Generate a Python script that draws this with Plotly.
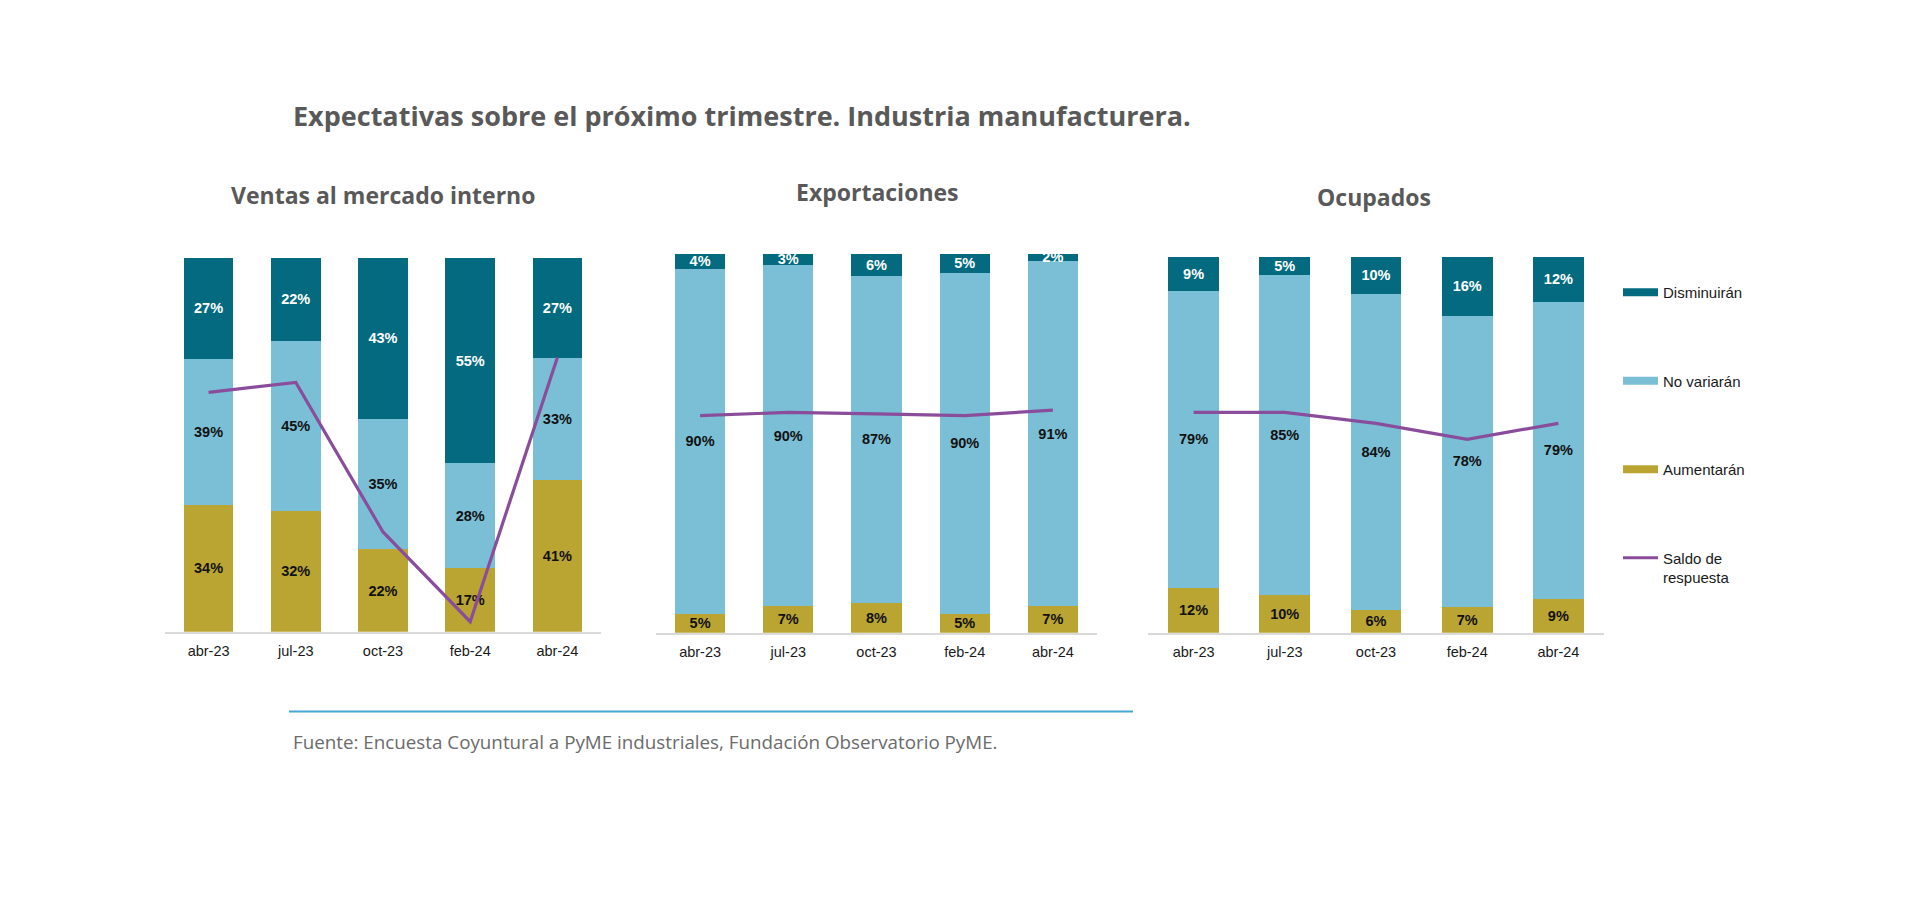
import plotly.graph_objects as go

# ---------------- data ----------------
categorias = ["abr-23", "jul-23", "oct-23", "feb-24", "abr-24"]

ventas_aumentaran = [34, 32, 22, 17, 41]
ventas_no_variaran = [39, 45, 35, 28, 33]
ventas_disminuiran = [27, 22, 43, 55, 27]
ventas_saldo = [8, 10, -20, -38, 15]

export_aumentaran = [5, 7, 8, 5, 7]
export_no_variaran = [90, 90, 87, 90, 91]
export_disminuiran = [4, 3, 6, 5, 2]
export_saldo = [0.5, 3.5, 2, 0.5, 5.5]

ocup_aumentaran = [12, 10, 6, 7, 9]
ocup_no_variaran = [79, 85, 84, 78, 79]
ocup_disminuiran = [9, 5, 10, 16, 12]
ocup_saldo = [4.3, 4.3, -1.4, -9.7, -1.4]

panel_titles = ["Ventas al mercado interno", "Exportaciones", "Ocupados"]
serie_aum = "Aumentarán"
serie_nov = "No variarán"
serie_dis = "Disminuirán"
serie_saldo = "Saldo de<br>respuesta"

main_title = "Expectativas sobre el próximo trimestre. Industria manufacturera."
fuente = "Fuente: Encuesta Coyuntural a PyME industriales, Fundación Observatorio PyME."

# ---------------- style ----------------
OFF = 8                      # default page body margin
W, H = 1920 - 2 * OFF, 911 - 2 * OFF
C_DIS = "#036A80"
C_NOV = "#7ABFD6"
C_AUM = "#BAA533"
C_SAL = "#8A4D9C"
LABEL_FONT = "Liberation Sans, Arial, sans-serif"
TITLE_FONT = "Open Sans, Lato, sans-serif"


def px(x):
    return (x - OFF) / W


def py(y):
    return 1 - (y - OFF) / H


panels = [
    dict(aum=ventas_aumentaran, nov=ventas_no_variaran, dis=ventas_disminuiran,
         saldo=ventas_saldo, x=(165, 601), y=(257.7, 631.7), y2range=[-40, 35],
         title_xy=(383, 195), width=0.57),
    dict(aum=export_aumentaran, nov=export_no_variaran, dis=export_disminuiran,
         saldo=export_saldo, x=(656, 1097), y=(253.7, 632.7), y2range=[-200, 150],
         title_xy=(877, 192), width=0.57),
    dict(aum=ocup_aumentaran, nov=ocup_no_variaran, dis=ocup_disminuiran,
         saldo=ocup_saldo, x=(1148, 1604), y=(256.7, 632.7), y2range=[-110, 85],
         title_xy=(1374, 197), width=0.555),
]


def pct(vals):
    return [f"{v}%" for v in vals]


fig = go.Figure()
layout_axes = {}
annotations = []

for i, p in enumerate(panels):
    xa = "x" if i == 0 else f"x{i + 1}"
    yb = "y" if i == 0 else f"y{2 * i + 1}"
    yl = f"y{2 * i + 2}"
    show = i == 0
    for vals, name, col, tcol in [
        (p["aum"], serie_aum, C_AUM, "#111111"),
        (p["nov"], serie_nov, C_NOV, "#111111"),
        (p["dis"], serie_dis, C_DIS, "#FFFFFF"),
    ]:
        fig.add_trace(go.Bar(
            x=categorias, y=vals, name=name, marker=dict(color=col, line=dict(width=0)),
            text=pct(vals), textposition="inside", insidetextanchor="middle",
            textangle=0, textfont=dict(family=LABEL_FONT, size=14.5, color=tcol, weight="bold"),
            width=p["width"], xaxis=xa, yaxis=yb, showlegend=False,
            legendgroup=name,
        ))
    fig.add_trace(go.Scatter(
        x=categorias, y=p["saldo"], name=serie_saldo, mode="lines",
        line=dict(color=C_SAL, width=3.2), xaxis=xa, yaxis=yl, showlegend=show,
        legendgroup="saldo", legendrank=4,
    ))

    xkey = "xaxis" if i == 0 else f"xaxis{i + 1}"
    ybkey = "yaxis" if i == 0 else f"yaxis{2 * i + 1}"
    ylkey = f"yaxis{2 * i + 2}"
    dom_x = [px(p["x"][0]), px(p["x"][1])]
    dom_y = [py(p["y"][1]), py(p["y"][0])]
    layout_axes[xkey] = dict(
        domain=dom_x, anchor=yb, type="category",
        range=[-0.5, 4.5], showline=True, linecolor="#D9D9D9", linewidth=2,
        showgrid=False, zeroline=False, ticks="", ticklabelstandoff=5,
        tickfont=dict(family=LABEL_FONT, size=14.5, color="#1A1A1A"), fixedrange=True,
    )
    layout_axes[ybkey] = dict(domain=dom_y, anchor=xa, range=[0, 100], visible=False,
                              showgrid=False, zeroline=False, fixedrange=True)
    layout_axes[ylkey] = dict(domain=dom_y, anchor=xa, overlaying=yb, side="right",
                              range=p["y2range"], visible=False, showgrid=False,
                              zeroline=False, fixedrange=True)
    annotations.append(dict(
        text=panel_titles[i], x=px(p["title_xy"][0]), y=py(p["title_xy"][1]),
        xref="paper", yref="paper", xanchor="center", yanchor="middle", showarrow=False,
        font=dict(family=TITLE_FONT, size=23, color="#595959", weight=700),
    ))

# legend swatches (wide flat rectangles, as in the original legend)
for name, col, rank in [(serie_dis, C_DIS, 1), (serie_nov, C_NOV, 2), (serie_aum, C_AUM, 3)]:
    fig.add_trace(go.Scatter(
        x=[None], y=[None], name=name, mode="lines",
        line=dict(color=col, width=8), legendgroup=name, legendrank=rank,
        showlegend=True, hoverinfo="skip",
    ))

annotations.append(dict(
    text=main_title, x=px(291), y=py(116), xref="paper", yref="paper",
    xanchor="left", yanchor="middle", showarrow=False,
    font=dict(family=TITLE_FONT, size=27, color="#595959", weight=700),
))
annotations.append(dict(
    text=fuente, x=px(291), y=py(742), xref="paper", yref="paper",
    xanchor="left", yanchor="middle", showarrow=False,
    font=dict(family=TITLE_FONT, size=18.8, color="#6B6B6B"),
))

fig.update_layout(
    width=W, height=H, autosize=False,
    margin=dict(l=0, r=0, t=0, b=0, pad=0),
    paper_bgcolor="white", plot_bgcolor="white",
    barmode="stack", barnorm="percent",
    uniformtext=dict(minsize=14.5, mode="show"),
    showlegend=True,
    legend=dict(
        x=px(1618), y=py(276), xanchor="left", yanchor="top",
        traceorder="grouped", tracegroupgap=66, itemwidth=35, valign="top",
        font=dict(family=LABEL_FONT, size=15, color="#1A1A1A"),
        bgcolor="rgba(0,0,0,0)",
    ),
    annotations=annotations,
    shapes=[dict(type="line", xref="paper", yref="paper", x0=px(289), x1=px(1133),
                 y0=py(711.5), y1=py(711.5),
                 line=dict(color="#45A7D6", width=2))],
    **layout_axes,
)

fig.write_html("out.html")
